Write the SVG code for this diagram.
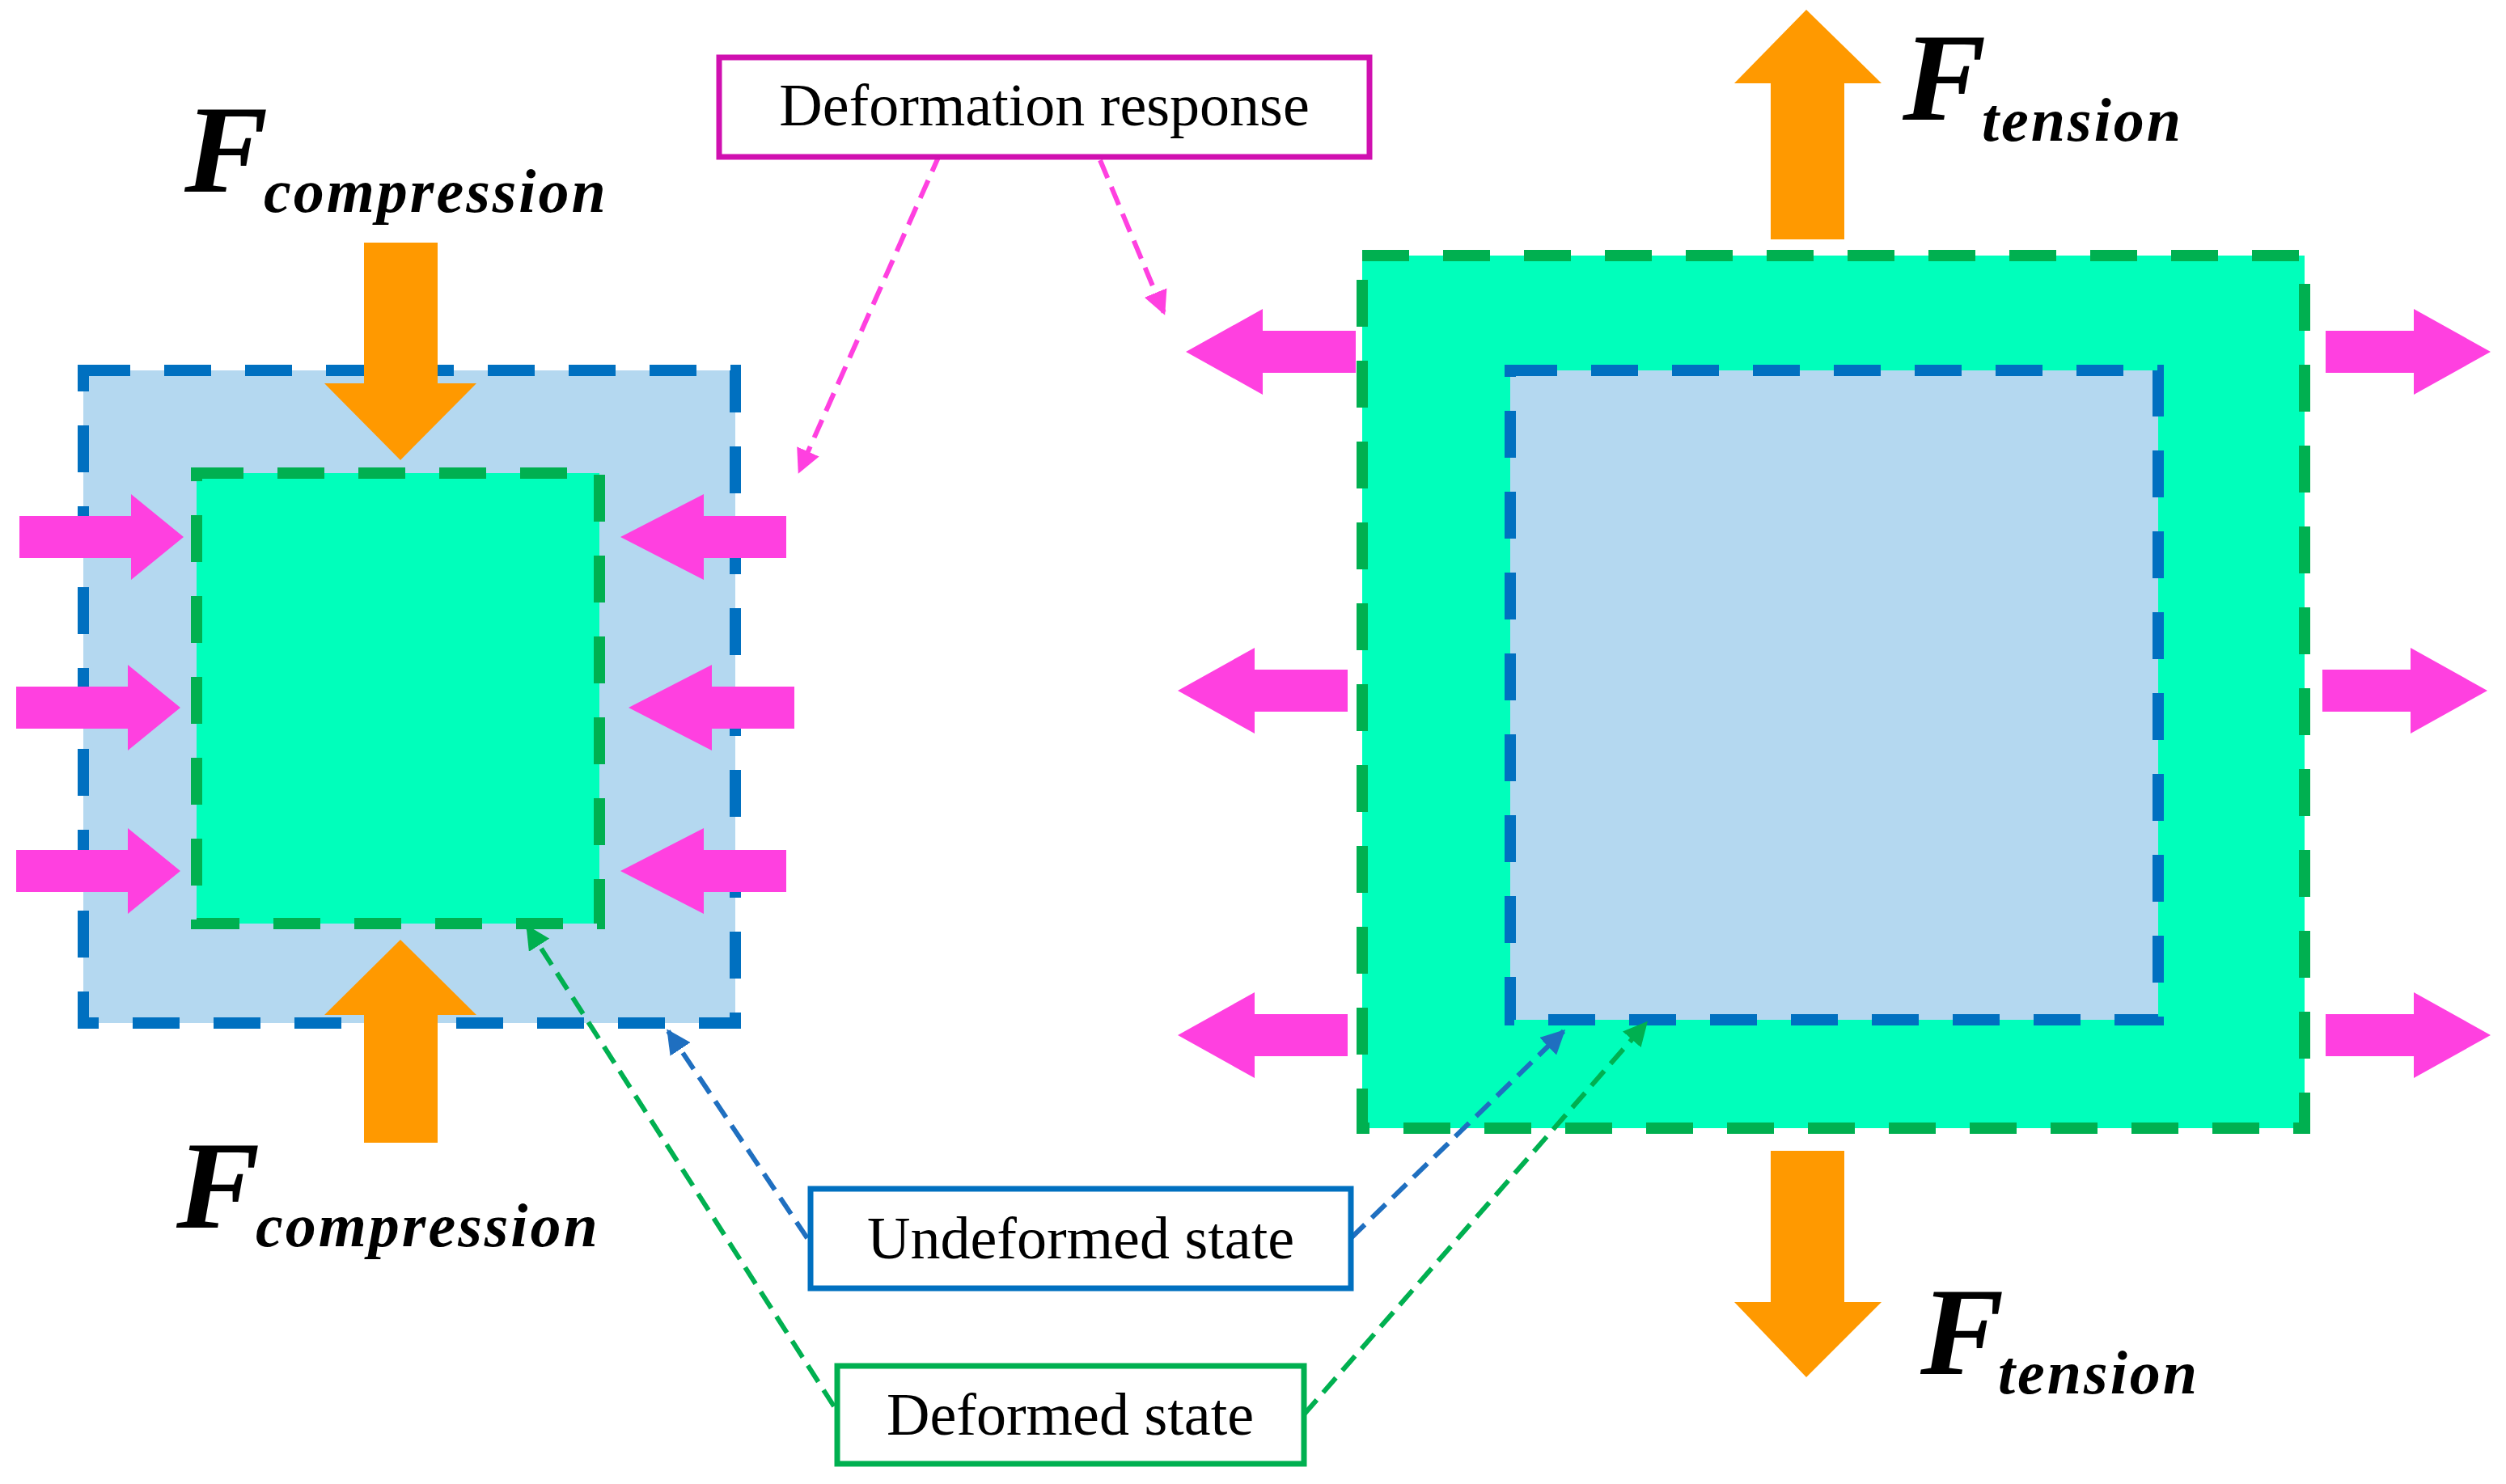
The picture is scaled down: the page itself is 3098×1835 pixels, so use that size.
<svg xmlns="http://www.w3.org/2000/svg" width="3098" height="1835" viewBox="0 0 3098 1835">
<defs>
<style>
.bl{stroke:#0070C0;stroke-width:14;stroke-dasharray:58 42;fill:#B4D8F0}
.gr{stroke:#00B050;stroke-width:14;stroke-dasharray:58 42;fill:#00FFBB}
.or{fill:#FF9900}
.mg{fill:#FF40E0}
.F{font-family:"Liberation Serif",serif;font-style:italic;font-weight:bold;font-size:155px;fill:#000}
.s{font-family:"Liberation Serif",serif;font-style:italic;font-weight:bold;font-size:76px;letter-spacing:3px;fill:#000}
.t{font-family:"Liberation Serif",serif;font-size:74px;fill:#000;text-anchor:middle}
.box{fill:#fff;stroke-width:7}
.c{fill:none;stroke-width:6;stroke-dasharray:24 12}
</style>
<marker id="ap" viewBox="0 0 10 10" refX="9" refY="5" markerWidth="5" markerHeight="5" orient="auto" markerUnits="strokeWidth"><path d="M0,0L10,5L0,10z" fill="#FF40E0"/></marker>
<marker id="ab" viewBox="0 0 10 10" refX="9" refY="5" markerWidth="5" markerHeight="5" orient="auto" markerUnits="strokeWidth"><path d="M0,0L10,5L0,10z" fill="#1F6FC0"/></marker>
<marker id="ag" viewBox="0 0 10 10" refX="9" refY="5" markerWidth="5" markerHeight="5" orient="auto" markerUnits="strokeWidth"><path d="M0,0L10,5L0,10z" fill="#00B050"/></marker>
</defs>
<g id="left">
<rect class="bl" x="103" y="458" width="806" height="807"/>
<rect class="gr" x="243" y="585" width="498" height="557"/>
<path class="or" d="M450,300H541V474H589L495,569L401,474H450z"/>
<path class="or" d="M450,1413H541V1255H589L495,1162L401,1255H450z"/>
<g class="mg">
<path d="M24,638H162V611L227,664L162,717V690H24z"/>
<path d="M20,849H158V822L223,875L158,928V901H20z"/>
<path d="M20,1051H158V1024L223,1077L158,1130V1103H20z"/>
<path d="M972,638H870V611L767,664L870,717V690H972z"/>
<path d="M982,849H880V822L777,875L880,928V901H982z"/>
<path d="M972,1051H870V1024L767,1077L870,1130V1103H972z"/>
</g>
<text class="F" x="228" y="237">F</text><text class="s" x="326" y="262">compression</text>
<text class="F" x="218" y="1518">F</text><text class="s" x="316" y="1541">compression</text>
</g>
<g id="right">
<rect class="gr" x="1684" y="316" width="1165" height="1079"/>
<rect class="bl" x="1867" y="458" width="801" height="803"/>
<path class="or" d="M2189,296H2280V103H2326L2233,12L2144,103H2189z"/>
<path class="or" d="M2189,1423H2280V1610H2326L2233,1703L2144,1610H2189z"/>
<g class="mg">
<path d="M1676,409H1561V382L1466,435L1561,488V461H1676z"/>
<path d="M1666,828H1551V801L1456,854L1551,907V880H1666z"/>
<path d="M1666,1254H1551V1227L1456,1280L1551,1333V1306H1666z"/>
<path d="M2875,409H2984V382L3079,435L2984,488V461H2875z"/>
<path d="M2871,828H2980V801L3075,854L2980,907V880H2871z"/>
<path d="M2875,1254H2984V1227L3079,1280L2984,1333V1306H2875z"/>
</g>
<text class="F" x="2352" y="148">F</text><text class="s" x="2450" y="174">tension</text>
<text class="F" x="2374" y="1699">F</text><text class="s" x="2470" y="1723">tension</text>
</g>
<g id="connectors">
<path class="c" stroke="#FF40E0" d="M1162,190L988,583" marker-end="url(#ap)"/>
<path class="c" stroke="#FF40E0" d="M1360,198L1439,387" marker-end="url(#ap)"/>
<path class="c" stroke="#1F6FC0" d="M998,1531L826,1275" marker-end="url(#ab)"/>
<path class="c" stroke="#1F6FC0" d="M1670,1531L1933,1275" marker-end="url(#ab)"/>
<path class="c" stroke="#00B050" d="M1031,1739L652,1146" marker-end="url(#ag)"/>
<path class="c" stroke="#00B050" d="M1612,1749L2035,1265" marker-end="url(#ag)"/>
</g>
<g id="deformation-response"><rect class="box" stroke="#D010B0" x="889" y="71" width="804" height="123"/><text class="t" x="1291" y="155">Deformation response</text></g>
<g id="undeformed-state"><rect class="box" stroke="#0070C0" x="1002" y="1470" width="668" height="123"/><text class="t" x="1336" y="1556">Undeformed state</text></g>
<g id="deformed-state"><rect class="box" stroke="#00B050" x="1035" y="1689" width="577" height="121"/><text class="t" x="1323" y="1774">Deformed state</text></g>
</svg>
